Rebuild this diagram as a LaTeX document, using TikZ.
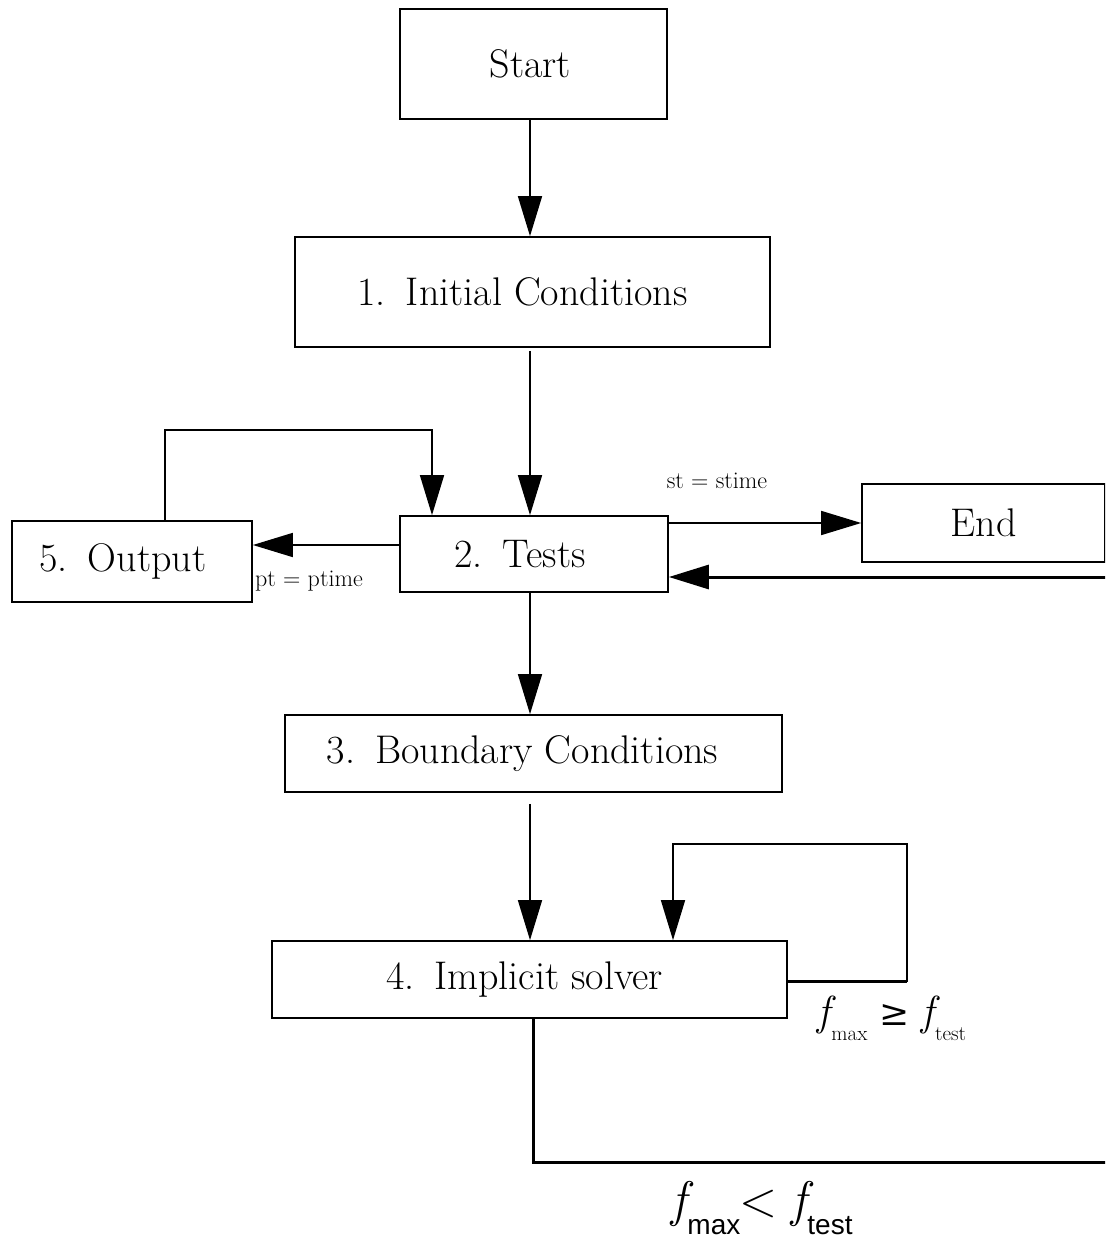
\documentclass[tikz,border=0pt]{standalone}
\usepackage{fontspec}
\newfontfamily\subsans{Liberation Sans}
\newfontfamily\symfont{DejaVu Serif}
\usetikzlibrary{arrows.meta}
\newcommand{\fsub}[2]{{\itshape f}\kern1pt\raisebox{-0.35em}{#2#1}}
\newcommand{\txtpad}[1]{\hspace*{#1}}
\begin{document}
\begin{tikzpicture}[x=1pt,y=-1pt,
  box/.style={draw, line width=1.7pt, inner sep=0pt, font=\fontsize{40}{44}\selectfont\addfontfeatures{FakeBold=1.6}},
  arr/.style={line width=1.6pt, -{Triangle[length=40pt,width=24pt]}},
  thk/.style={line width=3pt},
  lbl/.style={font=\fontsize{24}{26}\selectfont\addfontfeatures{FakeBold=1.4}, inner sep=0pt}]
\useasboundingbox (0,0) rectangle (1105,1238);
\clip (0,0) rectangle (1105,1238);
\fill[white] (0,0) rectangle (1105,1238);

\node[box, minimum width=267pt, minimum height=110pt] (start) at (533.5,64) {Start\txtpad{6pt}};
\node[box, minimum width=475pt, minimum height=110pt] (init) at (532.5,292) {1.\enspace Initial Conditions\txtpad{20pt}};
\node[box, minimum width=268pt, minimum height=76pt] (tests) at (534,554) {2.\enspace Tests\txtpad{28pt}};
\node[box, minimum width=240pt, minimum height=81pt] (out) at (132,561.5) {5.\enspace Output\txtpad{18pt}};
\node[box, minimum width=243pt, minimum height=78pt] (end) at (983.5,523) {End};
\node[box, minimum width=497pt, minimum height=77pt] (bnd) at (533.5,753.5) {3.\enspace Boundary Conditions\txtpad{22pt}};
\node[box, minimum width=515pt, minimum height=77pt] (impl) at (529.5,979.5) {4.\enspace Implicit solver\txtpad{10pt}};

\coordinate (ax) at (530,0);
\draw[arr] (start.south -| ax) -- (init.north -| ax);
\draw[arr] ([yshift=-3pt]init.south -| ax) -- (tests.north -| ax);
\draw[arr] (tests.south -| ax) -- (bnd.north -| ax);
\draw[arr] ([yshift=-11pt]bnd.south -| ax) -- (impl.north -| ax);

% output loop
\coordinate (o1) at (165,430);
\coordinate (o2) at (432,430);
\draw[arr] (out.north -| o1) -- (o1) -- (o2) -- (tests.north -| o2);

% tests -> output
\coordinate (yo) at (0,545);
\draw[arr] (tests.west |- yo) -- (out.east |- yo);
\node[lbl, anchor=west] (ptl) at (255,581) {pt = ptime};

% tests -> end
\coordinate (ye) at (0,523);
\draw[arr] (tests.east |- ye) -- (end.west |- ye);
\node[lbl] (stl) at (717,481) {st = stime};

% implicit loop
\coordinate (l1) at (907,981);
\coordinate (l2) at (907,844);
\coordinate (l3) at (673,844);
\draw[arr] (impl.east |- l1) -- (l1) -- (l2) -- (l3) -- (impl.north -| l3);
\draw[thk] (impl.east |- l1) -- (l1);
\node[inner sep=0pt] (fge) at (892,1018) {\fontsize{42}{44}\selectfont\addfontfeatures{FakeBold=1.4}\fsub{max}{\fontsize{21}{22}\selectfont\addfontfeatures{FakeBold=1.4}}\hspace{12pt}{\symfont\fontsize{36}{38}\selectfont ≥}\hspace{12pt}\fsub{test}{\fontsize{21}{22}\selectfont\addfontfeatures{FakeBold=1.4}}};

% bottom loop back to tests
\coordinate (b1) at (533,1162);
\coordinate (b2) at (1112,1162);
\coordinate (b3) at (1112,577);
\draw[thk, -{Triangle[length=40pt,width=24pt]}] (impl.south -| b1) -- (b1) -- (b2) -- (b3) -- (tests.east |- b3);
\node[inner sep=0pt] (flt) at (762,1208) {\fontsize{50}{54}\selectfont\addfontfeatures{FakeBold=1} \fsub{max}{\fontsize{28}{30}\subsans}\kern-1pt<\hspace{14pt}\fsub{test}{\fontsize{28}{30}\subsans}};
\end{tikzpicture}
\end{document}
